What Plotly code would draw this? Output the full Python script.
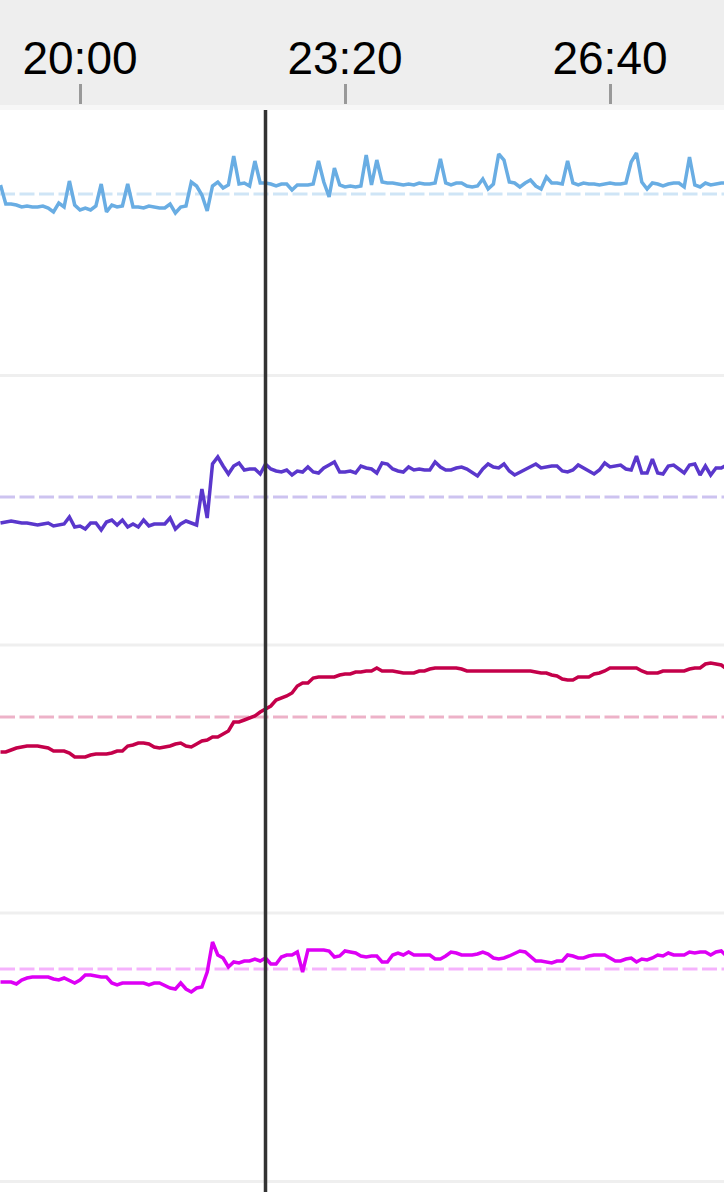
import plotly.graph_objects as go

# ---- data ----
times = list(range(1140, 1692, 4))  # seconds, 4 s sampling
tick_vals = [1200, 1400, 1600]
tick_text = ["20:00", "23:20", "26:40"]
marker_time = 1340
baseline = 100

blue = [109, 90, 90, 89, 87, 88, 87, 87, 88, 86, 82, 91, 87, 113, 89, 84, 86, 84, 88, 110,
        82, 89, 87, 88, 110, 87, 87, 86, 88, 87, 86, 86, 90, 81, 87, 88, 112, 108, 99, 83,
        108, 112, 106, 109, 138, 110, 111, 108, 133, 111, 111, 110, 108, 110, 110, 104, 109, 109, 109, 110,
        133, 112, 97, 126, 109, 107, 108, 107, 108, 139, 109, 134, 112, 111, 111, 110, 109, 110, 109, 111,
        110, 110, 111, 135, 111, 109, 111, 111, 108, 107, 108, 115, 105, 110, 140, 134, 112, 111, 107, 111,
        114, 108, 105, 117, 111, 111, 110, 133, 111, 109, 111, 110, 110, 109, 110, 111, 110, 110, 111, 132,
        141, 112, 105, 111, 110, 108, 110, 111, 111, 107, 137, 109, 107, 111, 109, 110, 111, 111]

purple = [74, 75, 76, 75, 74, 74, 73, 72, 73, 74, 71, 72, 73, 80, 70, 71, 68, 74, 74, 67,
          75, 77, 72, 77, 70, 73, 70, 77, 71, 73, 73, 73, 79, 68, 73, 76, 74, 72, 108, 79,
          133, 140, 131, 123, 131, 134, 127, 128, 128, 123, 133, 128, 126, 125, 127, 122, 126, 125, 130, 125,
          124, 129, 132, 135, 125, 125, 126, 124, 131, 129, 128, 124, 134, 133, 128, 126, 125, 130, 127, 128,
          127, 127, 135, 130, 127, 127, 129, 130, 128, 125, 121, 128, 133, 130, 129, 133, 126, 122, 125, 127,
          131, 133, 129, 130, 131, 131, 126, 125, 127, 132, 129, 126, 123, 127, 134, 130, 131, 132, 128, 127,
          141, 124, 124, 138, 124, 123, 131, 132, 128, 124, 132, 133, 122, 131, 122, 129, 129, 132]

red = [65, 65, 67, 69, 70, 71, 71, 71, 70, 69, 66, 66, 66, 64, 60, 60, 60, 62, 63, 63,
       63, 64, 66, 66, 71, 72, 74, 74, 73, 70, 69, 70, 71, 73, 74, 71, 70, 73, 76, 77,
       80, 80, 83, 86, 95, 95, 97, 99, 101, 105, 108, 111, 117, 119, 121, 124, 131, 134, 134, 139,
       140, 140, 140, 140, 142, 143, 143, 145, 145, 146, 146, 149, 146, 146, 146, 145, 144, 144, 144, 146,
       146, 148, 149, 149, 149, 149, 149, 148, 146, 146, 146, 146, 146, 146, 146, 146, 146, 146, 146, 146,
       146, 145, 144, 144, 142, 141, 138, 137, 137, 140, 140, 140, 143, 144, 146, 149, 149, 149, 149, 149,
       149, 146, 144, 144, 144, 146, 146, 146, 146, 146, 148, 149, 149, 153, 154, 153, 152, 148]

magenta = [87, 87, 87, 85, 89, 91, 92, 92, 92, 92, 90, 89, 91, 88, 86, 89, 94, 94, 93, 92,
           92, 86, 84, 86, 86, 86, 86, 86, 84, 86, 86, 83, 81, 80, 86, 80, 77, 81, 82, 97,
           127, 114, 111, 102, 107, 106, 108, 108, 110, 108, 111, 105, 105, 112, 114, 114, 117, 97, 119, 119,
           119, 119, 118, 112, 113, 118, 117, 116, 113, 112, 113, 113, 107, 107, 114, 116, 114, 117, 114, 114,
           114, 114, 110, 110, 113, 117, 116, 114, 114, 114, 115, 117, 115, 111, 110, 111, 113, 116, 118, 117,
           113, 108, 108, 107, 106, 108, 108, 114, 113, 111, 111, 113, 114, 114, 114, 111, 108, 108, 110, 111,
           107, 110, 109, 111, 114, 113, 116, 114, 114, 114, 117, 116, 117, 117, 114, 117, 118, 113]

series = [blue, purple, red, magenta]
colors = ["#69ade3", "#5a37cc", "#c4004a", "#dd00f5"]
dash_colors = ["rgba(105,173,227,0.32)", "rgba(90,55,204,0.30)", "rgba(196,0,74,0.30)", "rgba(221,0,245,0.30)"]

# ---- layout (pixel geometry) ----
W, H = 724, 1192
x_left_t, x_right_t = 1139.62, 1686.04
panel_px = [(110, 375.5), (375.5, 645), (645, 912), (912, 1180.5)]
base_px = [194, 497, 717, 969]


def py(px):
    return 1 - px / H


fig = go.Figure()
for i, (vals, c, dc) in enumerate(zip(series, colors, dash_colors)):
    suffix = "" if i == 0 else str(i + 1)
    fig.add_trace(go.Scatter(x=[x_left_t, x_right_t], y=[baseline, baseline], mode="lines",
                             line=dict(color=dc, width=3, dash="15px,4.5px"),
                             xaxis="x" + suffix, yaxis="y" + suffix, hoverinfo="skip", showlegend=False))
    fig.add_trace(go.Scatter(x=times, y=vals, mode="lines", line=dict(color=c, width=3.5),
                             xaxis="x" + suffix, yaxis="y" + suffix, showlegend=False))

layout = dict(
    width=W, height=H, margin=dict(l=0, r=0, t=0, b=0),
    paper_bgcolor="white", plot_bgcolor="rgba(0,0,0,0)", showlegend=False,
)
for i in range(4):
    suffix = "" if i == 0 else str(i + 1)
    top, bot = panel_px[i]
    bl = base_px[i]
    layout["yaxis" + suffix] = dict(
        domain=[py(bot), py(top)], range=[baseline + bl - bot, baseline + bl - top],
        visible=False, showgrid=False, zeroline=False, fixedrange=True,
        anchor="x" + suffix,
    )
    if i == 0:
        layout["xaxis"] = dict(
            domain=[0, 1], range=[x_left_t, x_right_t], anchor="free", position=py(104),
            side="top", ticks="outside", ticklen=20, tickwidth=3, tickcolor="#999999",
            tickvals=tick_vals, ticktext=tick_text, ticklabelstandoff=-8,
            tickfont=dict(family="Liberation Sans, Arial, sans-serif", size=46, color="#000000"),
            showgrid=False, zeroline=False, showline=False,
        )
    else:
        layout["xaxis" + suffix] = dict(
            domain=[0, 1], range=[x_left_t, x_right_t], matches="x", anchor="y" + suffix,
            visible=False, showgrid=False, zeroline=False,
        )

shapes = [
    dict(type="rect", xref="paper", yref="paper", x0=0, x1=1, y0=py(105), y1=1,
         fillcolor="#eeeeee", line=dict(width=0), layer="below"),
    dict(type="rect", xref="paper", yref="paper", x0=0, x1=1, y0=py(110), y1=py(105),
         fillcolor="#f7f7f7", line=dict(width=0), layer="below"),
]
for ypx in [375.5, 645, 913, 1181.5]:
    shapes.append(dict(type="line", xref="paper", yref="paper", x0=0, x1=1, y0=py(ypx), y1=py(ypx),
                       line=dict(color="#efefef", width=3), layer="below"))
shapes.append(dict(type="line", xref="x", yref="paper", x0=marker_time, x1=marker_time,
                   y0=0, y1=py(110), line=dict(color="#333333", width=3.5), layer="above"))
layout["shapes"] = shapes

fig.update_layout(**layout)
fig.write_html("out.html", config={"displayModeBar": False},
               post_script="document.body.style.margin='0';document.body.style.padding='0';")
